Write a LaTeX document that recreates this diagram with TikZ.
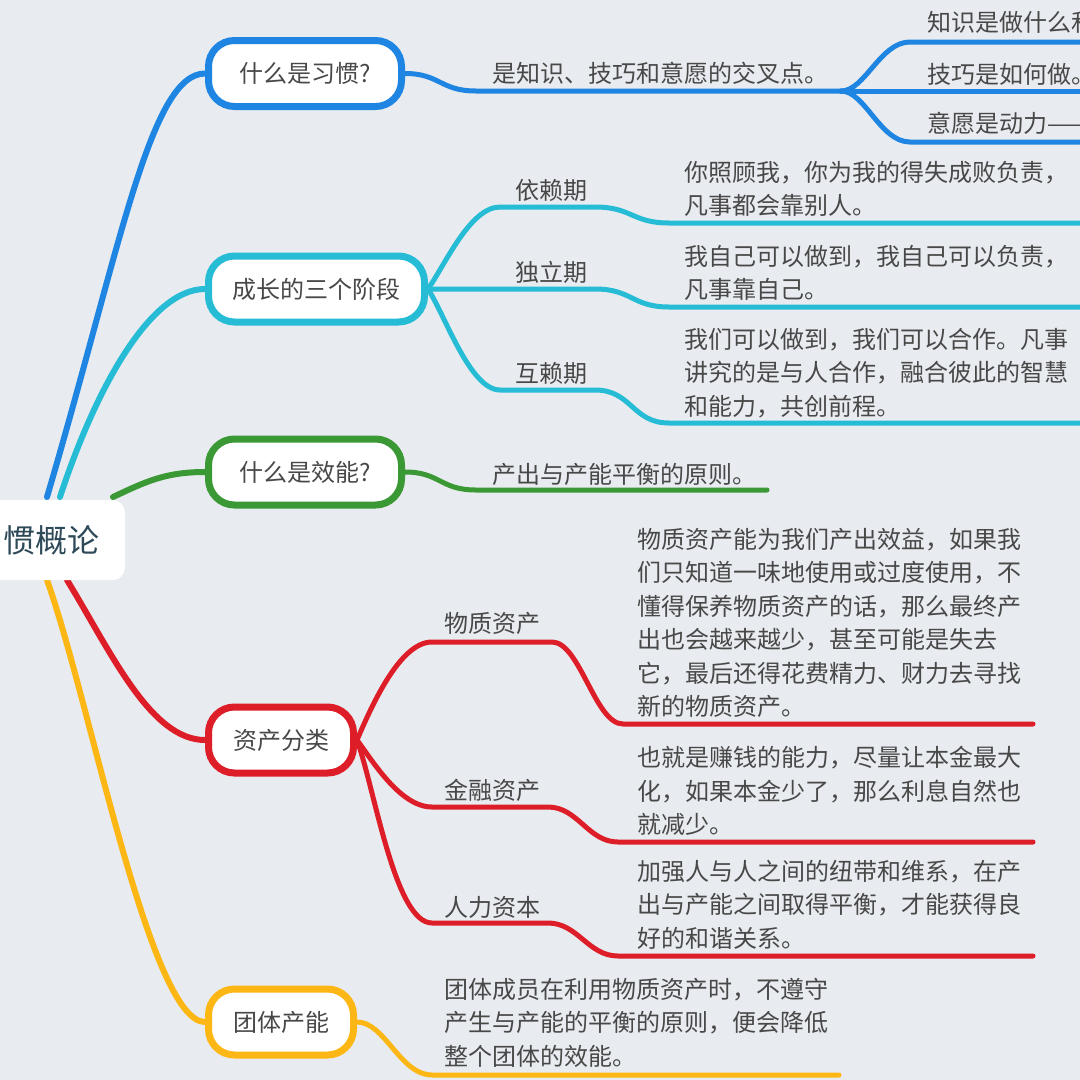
\documentclass[tikz,border=0pt]{standalone}
\usepackage{fontspec}
\setmainfont{Noto Sans CJK SC}
\pgfdeclarelayer{bg}
\pgfsetlayers{bg,main}
\definecolor{bgc}{RGB}{232,235,239}
\definecolor{cblue}{RGB}{30,134,226}
\definecolor{ccyan}{RGB}{38,188,213}
\definecolor{cgreen}{RGB}{58,153,52}
\definecolor{cred}{RGB}{221,30,40}
\definecolor{cyel}{RGB}{253,183,20}
\definecolor{txt}{RGB}{72,72,72}
\definecolor{roottxt}{RGB}{46,74,88}
\tikzset{
  topic/.style={draw, line width=7pt, fill=white, rounded corners=26pt, minimum height=66pt,
    inner sep=0pt, text=txt, font=\fontsize{24}{28}\selectfont},
  lbl/.style={anchor=west, inner sep=0pt, text=txt, font=\fontsize{24}{28}\selectfont},
  para/.style={anchor=north west, inner sep=0pt, align=left, text=txt, font=\fontsize{24}{33.5}\selectfont},
  trunk/.style={line width=6pt, line cap=round},
  twig/.style={line width=5pt, line cap=round},
}
\begin{document}
\begin{tikzpicture}[x=1pt,y=-1pt]
\useasboundingbox (0,0) rectangle (1080,1080);
\clip (0,0) rectangle (1080,1080);
% root
\node[fill=white, rounded corners=12pt, minimum height=80pt, text width=160pt, align=right,
  inner xsep=25pt, inner ysep=0pt, anchor=east, text=roottxt, font=\fontsize{32}{36}\selectfont]
  (root) at (125,540) {惯概论};
% topics
\node[topic, draw=cblue, minimum width=193pt] (n1) at (305,73.5) {什么是习惯?};
\node[topic, draw=ccyan, minimum width=216pt] (n2) at (316.5,289) {成长的三个阶段};
\node[topic, draw=cgreen, minimum width=193pt] (n3) at (305,472) {什么是效能?};
\node[topic, draw=cred, minimum width=145pt] (n4) at (281,740) {资产分类};
\node[topic, draw=cyel, minimum width=145pt] (n5) at (281,1022) {团体产能};
% texts
\node[lbl] (t1) at (492,73) {是知识、技巧和意愿的交叉点。};
\node[lbl] (t1a) at (927,22) {知识是做什么和};
\node[lbl] (t1b) at (927,74) {技巧是如何做。};
\node[lbl] (t1c) at (927,123) {意愿是动力——};
\node[lbl] (s1) at (515,190) {依赖期};
\node[lbl] (s2) at (515,272) {独立期};
\node[lbl] (s3) at (515,373) {互赖期};
\node[para] (d1) at (684,161) {你照顾我，你为我的得失成败负责，\\凡事都会靠别人。};
\node[para] (d2) at (684,245) {我自己可以做到，我自己可以负责，\\凡事靠自己。};
\node[para] (d3) at (684,328) {我们可以做到，我们可以合作。凡事\\讲究的是与人合作，融合彼此的智慧\\和能力，共创前程。};
\node[lbl] (g1) at (492,474) {产出与产能平衡的原则。};
\node[lbl] (r1) at (444,623) {物质资产};
\node[lbl] (r2) at (444,790) {金融资产};
\node[lbl] (r3) at (444,907) {人力资本};
\node[para] (rd1) at (637,528) {物质资产能为我们产出效益，如果我\\们只知道一味地使用或过度使用，不\\懂得保养物质资产的话，那么最终产\\出也会越来越少，甚至可能是失去\\它，最后还得花费精力、财力去寻找\\新的物质资产。};
\node[para] (rd2) at (637,746) {也就是赚钱的能力，尽量让本金最大\\化，如果本金少了，那么利息自然也\\就减少。};
\node[para] (rd3) at (637,860) {加强人与人之间的纽带和维系，在产\\出与产能之间取得平衡，才能获得良\\好的和谐关系。};
\node[para] (yd) at (444,978) {团体成员在利用物质资产时，不遵守\\产生与产能的平衡的原则，便会降低\\整个团体的效能。};
% coordinates
\coordinate (rb) at (47,497);
\coordinate (rc) at (60,497);
\coordinate (rg) at (113,497);
\coordinate (rr) at (67,580);
\coordinate (ry) at (47,580);
\coordinate (bf) at (841,91);
\coordinate (bt) at (1095,42);
\coordinate (bm) at (1095,91);
\coordinate (bb) at (1095,142);
\coordinate (ce1) at (1095,223);
\coordinate (ce2) at (1095,307);
\coordinate (ce3) at (1095,423);
\coordinate (ge) at (767,490);
\coordinate (re1) at (1033,724);
\coordinate (re2) at (1033,842);
\coordinate (re3) at (1033,956);
\coordinate (ye) at (839,1075);
\begin{pgfonlayer}{bg}
\clip (0,0) rectangle (1080,1080);
\fill[bgc] (0,0) rectangle (1080,1080);
% trunks
\draw[trunk, cblue] (rb) .. controls (120,250) and (150,73.5) .. (n1.west);
\draw[trunk, ccyan] (rc) .. controls (95,390) and (150,289) .. (n2.west);
\draw[trunk, cgreen] (rg) .. controls (145,482) and (165,472) .. (n3.west);
\draw[trunk, cred] (rr) .. controls (110,650) and (150,740) .. (n4.west);
\draw[trunk, cyel] (ry) .. controls (90,700) and (150,1022) .. (n5.west);
% blue
\draw[twig, cblue] (n1.east) .. controls (440,73.5) and (440,91) .. (476,91) -- (bf);
\draw[twig, cblue] (bf) .. controls (865,91) and (880,42) .. (910,42) -- (bt);
\draw[twig, cblue] (bf) -- (bm);
\draw[twig, cblue] (bf) .. controls (865,91) and (880,142) .. (910,142) -- (bb);
% cyan
\draw[twig, ccyan] (n2.east) .. controls (445,265) and (470,207) .. (500,207) -- (595,207)
  .. controls (632,207) and (632,223) .. (669,223) -- (ce1);
\draw[twig, ccyan] (n2.east) -- (595,289)
  .. controls (632,289) and (632,307) .. (669,307) -- (ce2);
\draw[twig, ccyan] (n2.east) .. controls (445,315) and (470,390) .. (500,390) -- (595,390)
  .. controls (632,390) and (632,423) .. (669,423) -- (ce3);
% green
\draw[twig, cgreen] (n3.east) .. controls (440,472) and (440,490) .. (476,490) -- (ge);
% red
\draw[twig, cred] (n4.east) .. controls (372,705) and (400,642) .. (432,642) -- (552,642)
  .. controls (580,642) and (595,724) .. (623,724) -- (re1);
\draw[twig, cred] (n4.east) .. controls (372,760) and (400,807) .. (432,807) -- (548,807)
  .. controls (578,807) and (588,842) .. (618,842) -- (re2);
\draw[twig, cred] (n4.east) .. controls (375,790) and (395,923) .. (432,923) -- (548,923)
  .. controls (578,923) and (588,956) .. (618,956) -- (re3);
% yellow
\draw[twig, cyel] (n5.east) .. controls (385,1022) and (400,1075) .. (432,1075) -- (ye);
\end{pgfonlayer}
\end{tikzpicture}
\end{document}
